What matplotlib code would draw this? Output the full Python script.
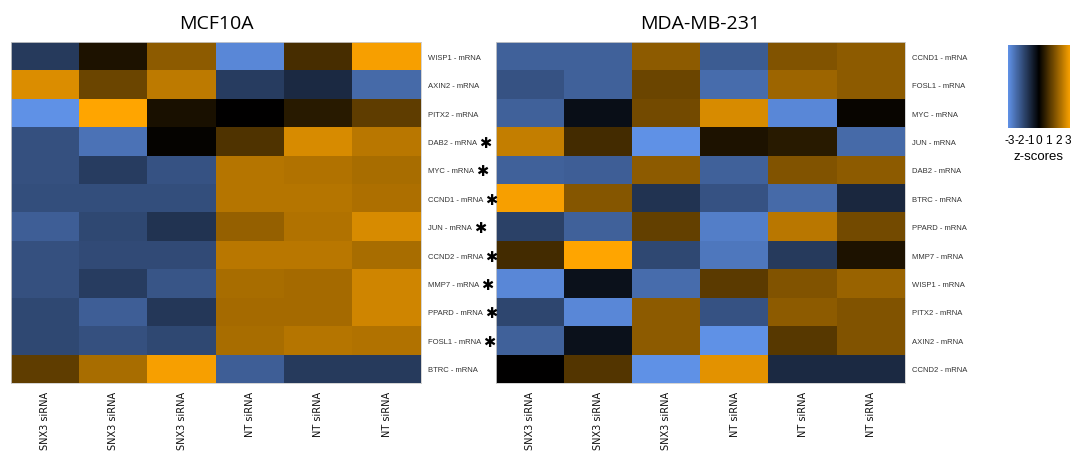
import matplotlib
matplotlib.use('Agg')
import matplotlib.pyplot as plt
import numpy as np
from matplotlib.colors import LinearSegmentedColormap

cols = ['SNX3 siRNA', 'SNX3 siRNA', 'SNX3 siRNA', 'NT siRNA', 'NT siRNA', 'NT siRNA']

mcf_genes = ['WISP1', 'AXIN2', 'PITX2', 'DAB2', 'MYC', 'CCND1', 'JUN', 'CCND2', 'MMP7', 'PPARD', 'FOSL1', 'BTRC']
mcf_star = [False, False, False, True, True, True, True, True, True, True, True, False]
mcf_z = [
    [-1.2, 0.35, 1.7, -2.8, 0.85, 3.0],
    [2.65, 1.3, 2.3, -1.25, -0.85, -2.2],
    [-3.0, 3.1, 0.3, 0.0, 0.5, 1.15],
    [-1.65, -2.35, 0.05, 0.95, 2.6, 2.25],
    [-1.65, -1.25, -1.7, 2.2, 2.15, 2.05],
    [-1.6, -1.6, -1.6, 2.2, 2.2, 2.1],
    [-1.95, -1.5, -1.05, 1.8, 2.15, 2.6],
    [-1.65, -1.55, -1.55, 2.25, 2.25, 2.05],
    [-1.65, -1.25, -1.75, 2.05, 2.0, 2.5],
    [-1.5, -1.95, -1.15, 2.0, 2.0, 2.5],
    [-1.5, -1.65, -1.5, 2.05, 2.2, 2.15],
    [1.15, 2.05, 3.0, -1.95, -1.2, -1.2],
]

mda_genes = ['CCND1', 'FOSL1', 'MYC', 'JUN', 'DAB2', 'BTRC', 'PPARD', 'MMP7', 'WISP1', 'PITX2', 'AXIN2', 'CCND2']
mda_z = [
    [-2.0, -2.0, 1.7, -1.9, 1.55, 1.7],
    [-1.7, -2.0, 1.3, -2.25, 1.9, 1.7],
    [-2.0, -0.3, 1.4, 2.6, -2.8, 0.1],
    [2.35, 0.8, -3.0, 0.35, 0.5, -2.2],
    [-2.0, -1.95, 1.7, -2.0, 1.55, 1.7],
    [3.0, 1.6, -1.05, -1.7, -2.2, -0.8],
    [-1.35, -2.0, 1.2, -2.6, 2.25, 1.4],
    [0.8, 3.1, -1.5, -2.45, -1.2, 0.35],
    [-2.8, -0.35, -2.25, 1.1, 1.55, 1.85],
    [-1.45, -2.8, 1.7, -1.7, 1.7, 1.55],
    [-2.0, -0.35, 1.7, -3.0, 1.05, 1.55],
    [0.0, 1.0, -3.0, 2.75, -0.85, -0.85],
]

cbar_ticks = [-3, -2, -1, 0, 1, 2, 3]

cmap = LinearSegmentedColormap.from_list('bko', ['#6396ee', '#000000', '#ffa500'])

fig = plt.figure(figsize=(10.77, 4.56), dpi=100)
ax1 = fig.add_axes([11 / 1077, 1 - 384 / 456, 410 / 1077, 341 / 456])
ax2 = fig.add_axes([496 / 1077, 1 - 384 / 456, 409 / 1077, 341 / 456])
cax = fig.add_axes([1008 / 1077, 1 - 129 / 456, 62 / 1077, 83 / 456])


def heat(ax, z, genes, title):
    ax.imshow(np.array(z), cmap=cmap, vmin=-3.1, vmax=3.1, aspect='auto', interpolation='nearest')
    ax.set_xticks(range(len(cols)))
    ax.set_xticklabels(cols, rotation=90, fontsize=7.0, va='top', color='#111111')
    ax.set_yticks(range(len(genes)))
    ax.set_yticklabels([g + ' - mRNA' for g in genes], fontsize=5.5, color='#333333',
                       family='Liberation Sans')
    ax.yaxis.tick_right()
    ax.tick_params(length=0, pad=5)
    ax.tick_params(axis='x', pad=6)
    for s in ax.spines.values():
        s.set_color('#cccccc')
        s.set_linewidth(0.6)
    ax.set_title(title, fontsize=14, pad=10, family='Open Sans')


heat(ax1, mcf_z, mcf_genes, 'MCF10A')
heat(ax2, mda_z, mda_genes, 'MDA-MB-231')

grad = np.linspace(-3, 3, 256).reshape(1, -1)
cax.imshow(grad, cmap=cmap, vmin=-3.1, vmax=3.1, aspect='auto', extent=[-3.2, 3.2, 0, 1])
cax.set_yticks([])
cax.set_xticks(cbar_ticks)
cax.set_xticklabels([str(t) for t in cbar_ticks], fontsize=8.5, family='Liberation Sans')
cax.tick_params(length=0, pad=4)
cax.set_xlabel('z-scores', fontsize=9.5, family='Liberation Sans', labelpad=3)
for s in cax.spines.values():
    s.set_visible(False)

# asterisks after the starred labels
fig.canvas.draw()
r = fig.canvas.get_renderer()
for lab, st in zip(ax1.get_yticklabels(), mcf_star):
    if st:
        bb = lab.get_window_extent(r)
        x, y = fig.transFigure.inverted().transform((bb.x1 + 2, (bb.y0 + bb.y1) / 2))
        fig.text(x, y, '✱', fontsize=10.5, ha='left', va='center', color='black')

fig.savefig('out.png', dpi=100)
